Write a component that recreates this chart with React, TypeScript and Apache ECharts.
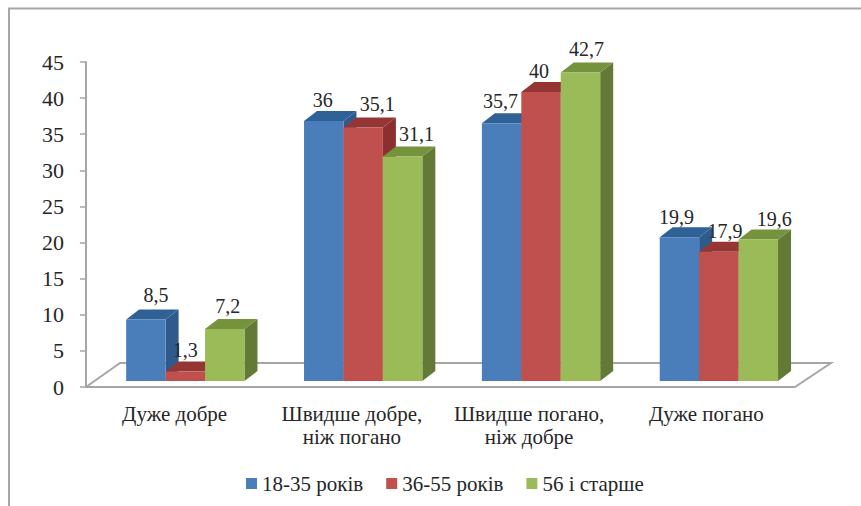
import React, { useEffect, useRef } from "react";
import * as echarts from "echarts";

const categories = ["Дуже добре", "Швидше добре,\nніж погано", "Швидше погано,\nніж добре", "Дуже погано"];
const seriesNames = ["18-35 років", "36-55 років", "56 і старше"];
const young = [8.5, 36, 35.7, 19.9];
const middle = [1.3, 35.1, 40, 17.9];
const older = [7.2, 31.1, 42.7, 19.6];
const yTicks = { min: 0, max: 45, interval: 5 };

const FONT = '"Liberation Serif", "Times New Roman", serif';
const TEXT = "#262626";
const AXIS = "#a6a6a6";
const front = ["#4a7ebb", "#c0504d", "#9bbb59"];
const top = ["#2f6096", "#963634", "#75923c"];
const side = ["#2f5a8c", "#8a302e", "#627a36"];
// label nudges from the bar's centre / back top edge, per series and category
const nudges = [
  [[10, -15], [-1, -11], [-1, -12], [-3, -10]],
  [[0, -12], [14, -14], [-2, -11], [6, -11]],
  [[3, -13], [14, -12], [6, -14], [16, -10]],
];
const DX = 13;
const DY = 10;
const LIFT = 6;
const SHIFT = 10.7;
const DRIFT = 0.6;

const barSeries = (name: string, values: number[], s: number) => ({
  type: "custom",
  name,
  z: 3 + s,
  itemStyle: { color: front[s] },
  data: values.map((v, i) => [i, v]),
  renderItem: (_p: any, api: any) => {
    const cat = api.value(0);
    const val = api.value(1);
    const p = api.coord([cat, val]);
    const base = api.coord([cat, 0]);
    const w = api.size([1, 0])[0] * 0.2225;
    const x0 = p[0] + SHIFT + cat * DRIFT - 1.5 * w + s * w;
    const x1 = x0 + w;
    const y0 = p[1] - LIFT;
    const y1 = base[1] - LIFT;
    const n = nudges[s][cat];
    return {
      type: "group",
      children: [
        { type: "polygon", shape: { points: [[x1, y0], [x1 + DX, y0 - DY], [x1 + DX, y1 - DY], [x1, y1]] }, style: { fill: side[s] } },
        { type: "polygon", shape: { points: [[x0, y0], [x0 + DX, y0 - DY], [x1 + DX, y0 - DY], [x1, y0]] }, style: { fill: top[s] } },
        { type: "rect", shape: { x: x0, y: y0, width: w, height: y1 - y0 }, style: { fill: front[s] } },
        {
          type: "text",
          z2: 10,
          x: x0 + w / 2 + n[0],
          y: y0 - DY + n[1],
          style: {
            text: String(val).replace(".", ","),
            fill: TEXT,
            font: `20px ${FONT}`,
            textAlign: "center",
            textVerticalAlign: "middle",
          },
        },
      ],
    };
  },
});

export default function App() {
  const ref = useRef<HTMLDivElement>(null);
  useEffect(() => {
    const chart = echarts.init(ref.current!, undefined, { renderer: "svg" });
    chart.setOption({
      animation: false,
      backgroundColor: "#ffffff",
      color: front,
      grid: { left: 86, top: 62, width: 709, height: 325 },
      legend: {
        data: seriesNames.map((name) => ({ name, icon: "rect" })),
        left: 241,
        top: 468,
        itemWidth: 11,
        itemHeight: 11,
        itemGap: 23,
        textStyle: { fontFamily: FONT, fontSize: 21, color: TEXT },
      },
      xAxis: {
        type: "category",
        data: categories,
        axisLine: { lineStyle: { color: AXIS, width: 2 } },
        axisTick: { length: 6, lineStyle: { color: AXIS, width: 1.5 } },
        axisLabel: { fontFamily: FONT, fontSize: 21, color: TEXT, lineHeight: 23, margin: 15, interval: 0 },
      },
      yAxis: {
        type: "value",
        ...yTicks,
        axisLine: { show: true, lineStyle: { color: AXIS, width: 2 } },
        axisTick: { show: true, length: 6, lineStyle: { color: AXIS, width: 1.5 } },
        splitLine: { show: false },
        axisLabel: { fontFamily: FONT, fontSize: 22, color: TEXT, margin: 22 },
      },
      graphic: [
        {
          type: "polyline",
          silent: true,
          shape: { points: [[9, 506], [9, 8.5], [861, 8.5]] },
          style: { stroke: AXIS, lineWidth: 2, fill: "none" },
        },
      ],
      series: [
        {
          type: "custom",
          name: "floor",
          z: 1,
          silent: true,
          data: [[0, 0]],
          renderItem: (params: any) => {
            const c = params.coordSys;
            const yb = c.y + c.height;
            return {
              type: "polyline",
              shape: {
                points: [
                  [c.x, yb],
                  [c.x + 34, yb - 24],
                  [c.x + c.width + 36, yb - 24],
                  [c.x + c.width, yb],
                ],
              },
              style: { stroke: AXIS, lineWidth: 2, fill: "none" },
            };
          },
        },
        barSeries(seriesNames[0], young, 0),
        barSeries(seriesNames[1], middle, 1),
        barSeries(seriesNames[2], older, 2),
      ],
    });
    return () => chart.dispose();
  }, []);
  return <div ref={ref} style={{ position: "absolute", left: 0, top: 0, width: 861, height: 506 }} />;
}
